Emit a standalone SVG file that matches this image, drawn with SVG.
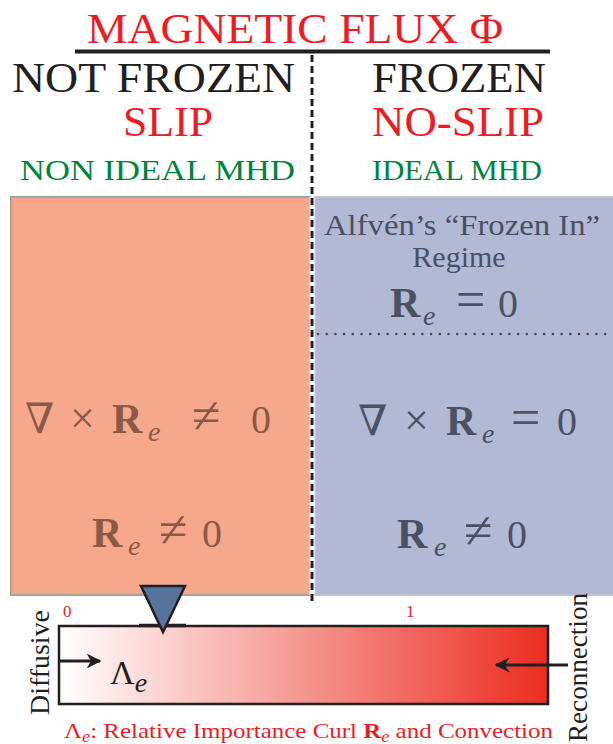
<svg xmlns="http://www.w3.org/2000/svg" width="613" height="744" viewBox="0 0 613 744" font-family="'Liberation Serif', 'Times New Roman', 'DejaVu Serif', serif">
<style>
.red{fill:#ED1C24;}
.blk{fill:#231F20;}
.grn{fill:#00843D;}
.gry{fill:#4B5162;}
.brn{fill:#8A5A48;}
.b{font-weight:bold;}
.i{font-style:italic;}
</style>
<defs>
<linearGradient id="grad" x1="0" y1="0" x2="1" y2="0">
<stop offset="0" stop-color="#FFFFFF"/>
<stop offset="1" stop-color="#EC2C20"/>
</linearGradient>
<marker id="ah" viewBox="0 0 10 10" refX="9" refY="5" markerWidth="5" markerHeight="5" orient="auto" markerUnits="strokeWidth">
<path d="M0,0 L10,5 L0,10 L3,5 Z" fill="#231F20"/>
</marker>
</defs>
<rect width="613" height="744" fill="#FFFFFF"/>

<g id="header">
<text class="red" x="87" y="43" font-size="43" textLength="416" lengthAdjust="spacingAndGlyphs">MAGNETIC FLUX Φ</text>
<line x1="75" y1="51.5" x2="550" y2="51.5" stroke="#231F20" stroke-width="4"/>
<text class="blk" x="12" y="92" font-size="42" textLength="283" lengthAdjust="spacingAndGlyphs">NOT FROZEN</text>
<text class="red" x="123" y="136" font-size="42" textLength="90" lengthAdjust="spacingAndGlyphs">SLIP</text>
<text class="grn" x="20" y="180" font-size="30" textLength="275" lengthAdjust="spacingAndGlyphs">NON IDEAL MHD</text>
<text class="blk" x="372" y="92" font-size="42" textLength="174" lengthAdjust="spacingAndGlyphs">FROZEN</text>
<text class="red" x="372" y="136" font-size="42" textLength="172" lengthAdjust="spacingAndGlyphs">NO-SLIP</text>
<text class="grn" x="372" y="180" font-size="30" textLength="170" lengthAdjust="spacingAndGlyphs">IDEAL MHD</text>
</g>

<g id="nonideal-region">
<rect x="11" y="197" width="299" height="398" fill="#F7A78A" stroke="#A3A3A3" stroke-width="2"/>
<text class="brn" x="25" y="433" font-size="42">∇</text>
<text class="brn" x="70" y="433" font-size="44">×</text>
<text class="brn b" x="112" y="433" font-size="42">R</text>
<text class="brn i" x="148" y="441" font-size="28">e</text>
<text class="brn" x="192" y="433" font-size="52">≠</text>
<text class="brn" x="251" y="433" font-size="40">0</text>
<text class="brn b" x="92" y="547" font-size="42">R</text>
<text class="brn i" x="128" y="555" font-size="28">e</text>
<text class="brn" x="159" y="547" font-size="52">≠</text>
<text class="brn" x="202" y="547" font-size="40">0</text>
</g>

<g id="ideal-region">
<rect x="315" y="197" width="300" height="398" fill="#B1B9D4" stroke="#C4C4C8" stroke-width="2"/>
<text class="gry" x="324" y="235" font-size="30" textLength="276" lengthAdjust="spacingAndGlyphs">Alfvén’s “Frozen In”</text>
<text class="gry" x="459" y="267" font-size="30" text-anchor="middle">Regime</text>
<text class="gry b" x="390" y="317" font-size="42">R</text>
<text class="gry i" x="423" y="325" font-size="28">e</text>
<text class="gry" x="456" y="317" font-size="52">=</text>
<text class="gry" x="498" y="317" font-size="40">0</text>
<line x1="318" y1="334" x2="613" y2="334" stroke="#444A58" stroke-width="2.6" stroke-linecap="round" stroke-dasharray="0 8.7"/>
<text class="gry" x="358" y="435" font-size="42">∇</text>
<text class="gry" x="404" y="435" font-size="44">×</text>
<text class="gry b" x="446" y="435" font-size="42">R</text>
<text class="gry i" x="482" y="443" font-size="28">e</text>
<text class="gry" x="511" y="435" font-size="52">=</text>
<text class="gry" x="557" y="435" font-size="40">0</text>
<text class="gry b" x="397" y="548" font-size="42">R</text>
<text class="gry i" x="434" y="556" font-size="28">e</text>
<text class="gry" x="464" y="548" font-size="52">≠</text>
<text class="gry" x="507" y="548" font-size="40">0</text>
</g>

<g id="divider">
<line x1="312" y1="197" x2="312" y2="595" stroke="#FFFFFF" stroke-width="5"/>
<line x1="312" y1="55" x2="312" y2="602" stroke="#231F20" stroke-width="3" stroke-dasharray="7 4"/>
</g>

<g id="scale-bar">
<rect x="59" y="626" width="489" height="78" fill="url(#grad)" stroke="#231F20" stroke-width="2.5"/>
<text class="red" x="63" y="617" font-size="17">0</text>
<text class="red" x="406" y="617" font-size="17">1</text>
<text class="blk" x="110" y="684" font-size="34">Λ<tspan class="i" font-size="28" dy="8">e</tspan></text>
</g>

<g id="indicator">
<line x1="139" y1="625.5" x2="186" y2="625.5" stroke="#231F20" stroke-width="3.5"/>
<path d="M141,586 L185,586 L163,632 Z" fill="#56749C" stroke="#231F20" stroke-width="2.5" stroke-linejoin="miter"/>
</g>

<g id="labels">
<text class="blk" transform="translate(49,662.5) rotate(-90)" x="0" y="0" font-size="28" text-anchor="middle" textLength="105" lengthAdjust="spacingAndGlyphs">Diffusive</text>
<text class="blk" transform="translate(587,667.5) rotate(-90)" x="0" y="0" font-size="28" text-anchor="middle" textLength="149" lengthAdjust="spacingAndGlyphs">Reconnection</text>
<text class="red" x="64" y="738" font-size="22" textLength="489" lengthAdjust="spacingAndGlyphs">Λ<tspan class="i" font-size="16" dy="4">e</tspan><tspan dy="-4">: Relative Importance Curl </tspan><tspan class="b">R</tspan><tspan class="i" font-size="16" dy="4">e</tspan><tspan dy="-4"> and Convection</tspan></text>
</g>

<g id="connectors">
<line x1="58" y1="661" x2="100" y2="661" stroke="#231F20" stroke-width="3" marker-end="url(#ah)"/>
<line x1="568" y1="665" x2="496" y2="665" stroke="#231F20" stroke-width="3" marker-end="url(#ah)"/>
</g>
</svg>
